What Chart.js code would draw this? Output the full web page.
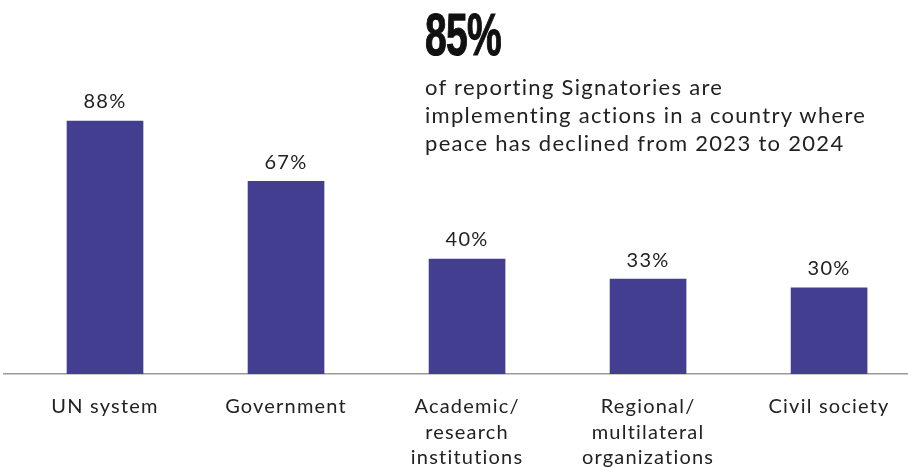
<!DOCTYPE html>
<html>
<head>
<meta charset="utf-8">
<script src="https://cdn.jsdelivr.net/npm/chart.js@4"></script>
<style>
  html, body { margin: 0; padding: 0; background: #fff; overflow: hidden; }
  #wrap { position: relative; width: 908px; height: 467px; }
  #c { position: absolute; left: 0; top: 0; }
  #big { position: absolute; left: 425px; top: -1px; font-family: "Liberation Sans Narrow", "Liberation Sans", sans-serif; font-weight: bold; font-size: 60px; color: #111; transform: scaleX(0.65); transform-origin: left top; line-height: 72px; letter-spacing: -1px; -webkit-text-stroke: 1.2px #111; }
  #sub { position: absolute; left: 425px; top: 73px; font-family: Lato, "Noto Sans", sans-serif; font-size: 22px; line-height: 28px; color: #222; letter-spacing: 1.3px; }
</style>
</head>
<body>
<div id="wrap">
  <canvas id="c" width="908" height="467"></canvas>
  <div id="big">85%</div>
  <div id="sub">of reporting Signatories are<br>implementing actions in a country where<br>peace has declined from 2023 to 2024</div>
</div>
<script>
const categories = [
  ["UN system"],
  ["Government"],
  ["Academic/", "research", "institutions"],
  ["Regional/", "multilateral", "organizations"],
  ["Civil society"]
];
const values = [88, 67, 40, 33, 30];

const barColor = "#433E8F";
const textColor = "#222222";
const fontFamily = "Lato, 'Noto Sans', sans-serif";

const spacing = {
  id: "spacing",
  beforeInit(chart) { chart.ctx.letterSpacing = "1.2px"; },
  beforeDraw(chart) { chart.ctx.letterSpacing = "1.2px"; }
};

const valueLabels = {
  id: "valueLabels",
  afterDatasetsDraw(chart) {
    const ctx = chart.ctx;
    const meta = chart.getDatasetMeta(0);
    ctx.save();
    ctx.letterSpacing = "1.3px";
    ctx.font = "20px " + fontFamily;
    ctx.fillStyle = textColor;
    ctx.textAlign = "center";
    ctx.textBaseline = "middle";
    meta.data.forEach((bar, i) => {
      ctx.fillText(values[i] + "%", bar.x, bar.y - 19);
    });
    ctx.restore();
  }
};

new Chart(document.getElementById("c"), {
  type: "bar",
  data: {
    datasets: [{
      data: values.map((v, i) => ({ x: i, y: v })),
      backgroundColor: barColor,
      barThickness: 76
    }]
  },
  options: {
    responsive: false,
    animation: false,
    events: [],
    layout: { padding: { top: 86.5, left: 4, right: 0, bottom: 0 } },
    plugins: { legend: { display: false }, tooltip: { enabled: false } },
    scales: {
      x: {
        type: "linear",
        offset: false,
        min: -0.558,
        max: 4.436,
        afterBuildTicks(scale) { scale.ticks = categories.map((c, i) => ({ value: i })); },
        afterFit(scale) { scale.height = 93; },
        grid: { display: false, drawTicks: false },
        border: { display: true, color: "#9a9a9a", width: 1.5 },
        ticks: {
          autoSkip: false,
          maxRotation: 0,
          padding: 20,
          color: textColor,
          font: { family: fontFamily, size: 20, lineHeight: 1.28 },
          callback: (v) => categories[Math.round(v)]
        }
      },
      y: { display: false, min: 0, max: 100 }
    }
  },
  plugins: [spacing, valueLabels]
});
</script>
</body>
</html>
